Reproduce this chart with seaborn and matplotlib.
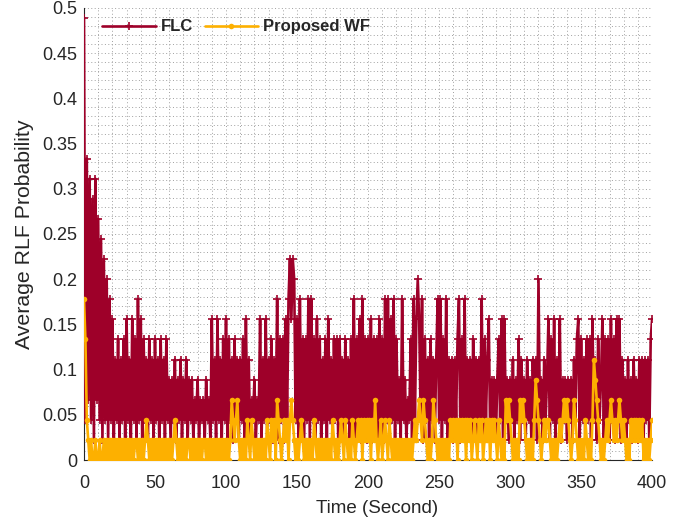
import matplotlib
matplotlib.use("Agg")
import numpy as np
import pandas as pd
import seaborn as sns
import matplotlib.pyplot as plt
from matplotlib.ticker import MultipleLocator, FuncFormatter

# RLF probability values expressed as counts out of RLF_DENOM UEs
RLF_DENOM = 45
flc_counts = [
    22, 2, 15, 3, 14, 2, 13, 1, 14, 3,
    12, 2, 11, 1, 10, 2, 9, 1, 8, 2,
    7, 1, 5, 2, 6, 1, 5, 2, 6, 1,
    7, 2, 5, 1, 7, 2, 6, 1, 8, 2,
    7, 1, 6, 2, 5, 1, 6, 2, 5, 1,
    6, 2, 5, 1, 6, 2, 5, 1, 6, 2,
    4, 1, 4, 2, 5, 1, 4, 2, 5, 1,
    4, 2, 5, 1, 4, 2, 4, 1, 3, 2,
    4, 1, 3, 2, 3, 1, 4, 2, 3, 1,
    7, 2, 5, 1, 7, 2, 5, 1, 6, 2,
    7, 1, 6, 2, 5, 1, 6, 2, 5, 1,
    5, 2, 6, 1, 7, 2, 5, 1, 3, 2,
    4, 1, 3, 2, 7, 1, 5, 2, 7, 1,
    5, 2, 6, 1, 5, 2, 8, 1, 6, 2,
    6, 1, 7, 2, 8, 10, 7, 10, 9, 2,
    7, 1, 8, 2, 6, 1, 6, 2, 8, 1,
    8, 2, 6, 1, 7, 2, 6, 1, 5, 2,
    6, 1, 7, 2, 5, 1, 6, 2, 6, 1,
    6, 2, 5, 1, 6, 2, 5, 1, 6, 2,
    8, 1, 6, 2, 7, 1, 8, 2, 6, 1,
    6, 2, 7, 1, 6, 2, 6, 1, 7, 2,
    6, 1, 8, 2, 8, 1, 7, 2, 8, 1,
    6, 2, 4, 1, 8, 2, 4, 1, 3, 2,
    6, 1, 8, 2, 7, 9, 7, 2, 8, 1,
    6, 2, 5, 1, 6, 2, 5, 1, 5, 8,
    2, 8, 1, 6, 2, 8, 1, 5, 2, 5,
    1, 5, 2, 6, 8, 1, 6, 2, 8, 1,
    5, 2, 5, 1, 6, 2, 5, 1, 5, 2,
    8, 1, 6, 2, 5, 7, 1, 4, 2, 4,
    1, 4, 6, 2, 7, 1, 7, 2, 4, 1,
    4, 2, 5, 1, 4, 2, 6, 1, 5, 2,
    4, 1, 5, 2, 4, 1, 5, 2, 5, 1,
    9, 2, 4, 1, 5, 2, 4, 7, 1, 6,
    2, 7, 1, 5, 2, 7, 1, 4, 2, 4,
    1, 4, 2, 4, 1, 5, 2, 6, 7, 1,
    6, 2, 5, 1, 6, 2, 6, 1, 7, 2,
    5, 1, 6, 2, 4, 7, 1, 6, 2, 6,
    1, 7, 2, 6, 1, 7, 2, 7, 1, 5,
    2, 4, 1, 5, 2, 4, 1, 5, 2, 4,
    1, 5, 2, 5, 1, 5, 2, 5, 1, 6,
    7,
]
wf_counts = [
    8, 6, 2, 1, 0, 1, 0, 0, 1, 0,
    0, 1, 0, 0, 1, 0, 1, 0, 1, 0,
    1, 0, 1, 0, 1, 0, 1, 0, 1, 0,
    1, 0, 1, 0, 1, 0, 1, 1, 0, 1,
    0, 1, 0, 1, 2, 1, 0, 1, 0, 1,
    0, 1, 0, 1, 0, 1, 0, 1, 0, 1,
    0, 1, 0, 1, 2, 1, 0, 1, 0, 1,
    0, 1, 0, 1, 1, 0, 1, 0, 1, 0,
    1, 0, 1, 0, 1, 1, 0, 1, 0, 1,
    0, 1, 0, 1, 0, 1, 0, 1, 0, 1,
    0, 1, 0, 1, 3, 2, 1, 2, 3, 1,
    0, 1, 0, 1, 0, 2, 1, 0, 2, 1,
    0, 1, 0, 1, 0, 1, 0, 1, 0, 2,
    1, 0, 2, 1, 2, 0, 3, 2, 1, 0,
    1, 2, 1, 2, 0, 2, 3, 2, 1, 0,
    1, 0, 1, 2, 1, 0, 1, 0, 1, 0,
    1, 0, 2, 1, 0, 1, 0, 1, 0, 1,
    0, 1, 0, 1, 0, 2, 1, 0, 1, 0,
    1, 2, 1, 0, 2, 1, 0, 1, 0, 2,
    1, 0, 1, 2, 1, 2, 0, 2, 1, 2,
    1, 2, 0, 2, 1, 3, 1, 0, 1, 2,
    0, 1, 2, 1, 0, 2, 1, 0, 1, 0,
    1, 0, 1, 0, 1, 0, 1, 0, 1, 0,
    1, 0, 1, 2, 1, 2, 3, 2, 1, 3,
    2, 1, 0, 1, 0, 1, 3, 2, 1, 0,
    1, 0, 1, 0, 1, 0, 1, 0, 2, 1,
    2, 1, 2, 0, 2, 1, 2, 1, 2, 0,
    2, 1, 2, 0, 1, 2, 1, 0, 2, 1,
    2, 0, 1, 2, 1, 2, 0, 2, 1, 2,
    1, 0, 2, 1, 0, 1, 0, 3, 2, 3,
    2, 1, 0, 1, 0, 1, 0, 3, 2, 3,
    2, 1, 0, 1, 0, 1, 0, 2, 4, 3,
    2, 1, 0, 1, 2, 1, 2, 2, 1, 0,
    1, 0, 1, 0, 1, 2, 1, 2, 3, 2,
    3, 2, 1, 0, 1, 3, 2, 1, 0, 1,
    0, 1, 0, 2, 1, 0, 1, 0, 2, 5,
    4, 3, 2, 1, 0, 1, 0, 1, 2, 1,
    2, 3, 2, 1, 2, 1, 2, 3, 2, 1,
    2, 1, 0, 1, 0, 2, 1, 2, 1, 2,
    1, 2, 1, 2, 0, 1, 0, 1, 0, 1,
    2,
]
series_names = ["FLC", "Proposed WF"]
x_ticks = [0, 50, 100, 150, 200, 250, 300, 350, 400]
y_ticks = [0, 0.05, 0.1, 0.15, 0.2, 0.25, 0.3, 0.35, 0.4, 0.45, 0.5]
x_label = "Time (Second)"
y_label = "Average RLF Probability"

flc_df = pd.DataFrame({"t": np.arange(len(flc_counts)),
                       "p": np.array(flc_counts) / RLF_DENOM})
wf_df = pd.DataFrame({"t": np.arange(len(wf_counts)),
                      "p": np.array(wf_counts) / RLF_DENOM})

sns.set_style("white")
plt.rcParams["font.family"] = ["Liberation Sans", "DejaVu Sans"]

fig = plt.figure(figsize=(6.8, 5.21), dpi=100)
ax = fig.add_axes([0.1235, 0.117, 0.8355, 0.868])

red = "#9E0029"
orange = "#FDB000"

sns.lineplot(data=flc_df, x="t", y="p", ax=ax, color=red, linewidth=1.9,
             marker="+", markersize=6, markeredgewidth=1.2, markeredgecolor=red,
             label=series_names[0], zorder=3)
sns.lineplot(data=wf_df, x="t", y="p", ax=ax, color=orange, linewidth=1.9,
             marker="o", markersize=4, markeredgewidth=0, markerfacecolor=orange,
             label=series_names[1], zorder=4)

ax.set_xlim(0, 400)
ax.set_ylim(0, 0.5)
ax.set_xticks(x_ticks)
ax.set_yticks(y_ticks)
ax.xaxis.set_major_formatter(FuncFormatter(lambda v, p: "%g" % v))
ax.yaxis.set_major_formatter(FuncFormatter(lambda v, p: "%g" % round(v, 3)))
ax.xaxis.set_minor_locator(MultipleLocator(10))
ax.yaxis.set_minor_locator(MultipleLocator(0.01))
ax.grid(which="both", linestyle=(0, (1, 2.5)), color="#a0a0a0", linewidth=0.7)
ax.set_axisbelow(True)
ax.tick_params(which="major", direction="in", length=4, labelsize=13,
               colors="#262626", width=0.8)
ax.tick_params(axis="x", which="major", pad=11)
ax.tick_params(axis="y", which="major", pad=5)
ax.tick_params(which="minor", length=0)
for s in ["top", "right"]:
    ax.spines[s].set_visible(False)
for s in ["left", "bottom"]:
    ax.spines[s].set_color("#262626")
    ax.spines[s].set_linewidth(0.8)

ax.set_xlabel(x_label, fontsize=13.5, color="#262626")
ax.xaxis.set_label_coords(0.516, -0.088)
ax.set_ylabel(y_label, fontsize=15.3, color="#262626", labelpad=6)

leg = ax.legend(ncol=2, frameon=False, loc="upper left", bbox_to_anchor=(0.012, 1.0),
                prop={"weight": "bold", "size": 12}, handlelength=3.2,
                columnspacing=0.7, handletextpad=0.3, borderaxespad=0.3)

fig.savefig("out.png", dpi=100)
